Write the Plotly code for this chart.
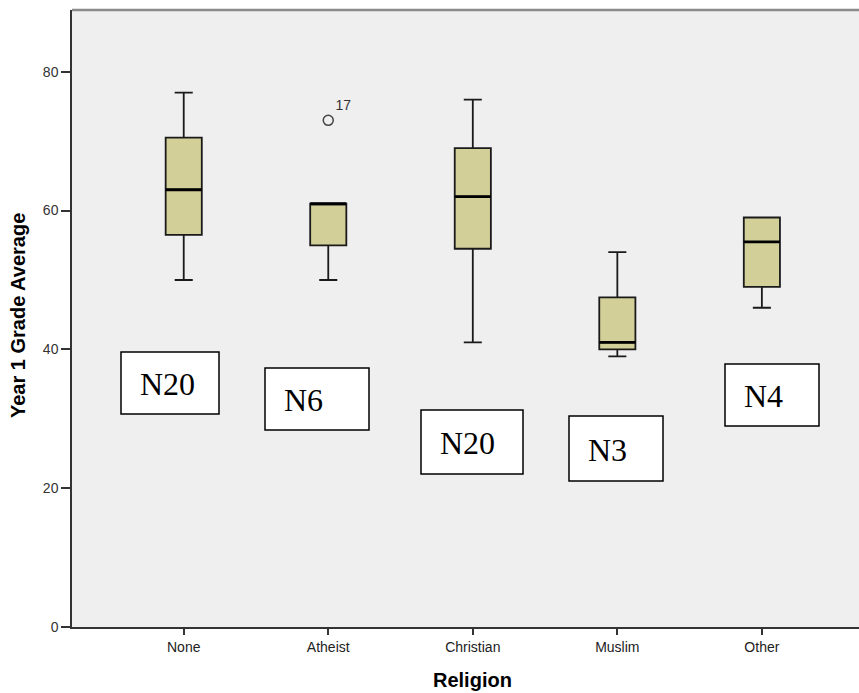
import plotly.graph_objects as go

# ---- data ----
categories = ["None", "Atheist", "Christian", "Muslim", "Other"]
positions = [1, 2, 3, 4, 5]
lower_whisker = [50, 50, 41, 39, 46]
q1_vals = [56.5, 55, 54.5, 40, 49]
median_vals = [63, 61, 62, 41, 55.5]
q3_vals = [70.5, 61, 69, 47.5, 59]
upper_whisker = [77, 61, 76, 54, 59]
outlier_x = [2]
outlier_y = [73]
outlier_labels = ["17"]
n_labels = ["N20", "N6", "N20", "N3", "N4"]
y_ticks = [0, 20, 40, 60, 80]

W, H = 859, 693
L, T, B, R = 72, 10, 66, 0
PW, PH = W - L - R, H - T - B


def px_x(p):
    return (p - L) / PW


def px_y(p):
    return (H - B - p) / PH


BOX_W = 0.25
fig = go.Figure()
fig.add_trace(go.Box(
    x=positions, q1=q1_vals, median=median_vals, q3=q3_vals,
    lowerfence=lower_whisker, upperfence=upper_whisker,
    width=BOX_W, whiskerwidth=0.5, boxpoints=False,
    fillcolor="#D3CF99", line=dict(color="#1a1a1a", width=1.8),
    showlegend=False, hoverinfo="skip"))

# thick median lines
mx, my = [], []
for p, m in zip(positions, median_vals):
    mx += [p - BOX_W / 2, p + BOX_W / 2, None]
    my += [m, m, None]
fig.add_trace(go.Scatter(x=mx, y=my, mode="lines",
                         line=dict(color="black", width=2.8),
                         showlegend=False, hoverinfo="skip"))

# outlier
fig.add_trace(go.Scatter(
    x=outlier_x, y=outlier_y, mode="markers+text", text=outlier_labels,
    textposition="top right",
    textfont=dict(family="Liberation Sans, Arial", size=14, color="#333"),
    marker=dict(symbol="circle-open", size=10, color="#444",
                line=dict(width=1.5, color="#444")),
    showlegend=False, hoverinfo="skip"))

# N label boxes (pixel boxes: x0, x1, y0, y1)
label_boxes = [(121, 219, 352, 414), (265, 369, 368, 430),
               (421, 523, 410, 474), (569, 663, 416, 481),
               (725, 819, 364, 426)]
shapes = []
annotations = []
for txt, (x0, x1, y0, y1) in zip(n_labels, label_boxes):
    shapes.append(dict(type="rect", xref="paper", yref="paper",
                       x0=px_x(x0), x1=px_x(x1), y0=px_y(y1), y1=px_y(y0),
                       fillcolor="white", line=dict(color="black", width=1.5),
                       layer="above"))
    annotations.append(dict(xref="paper", yref="paper",
                            x=px_x(x0 + 17), y=px_y((y0 + y1) / 2 + 1),
                            xanchor="left", yanchor="middle", showarrow=False,
                            text=txt,
                            font=dict(family="Liberation Serif, Times New Roman",
                                      size=32, color="black")))

# top frame line
shapes.append(dict(type="line", xref="paper", yref="paper", x0=0, x1=1,
                   y0=1, y1=1, line=dict(color="#8a8a8a", width=2.5)))

# axis titles
annotations.append(dict(xref="x", yref="paper", x=3, y=px_y(680),
                        xanchor="center", yanchor="middle", showarrow=False,
                        text="Religion",
                        font=dict(family="Liberation Sans, Arial", size=20,
                                  color="black", weight="bold")))
annotations.append(dict(xref="paper", yref="paper", x=px_x(18),
                        y=px_y(316), xanchor="center", yanchor="middle",
                        showarrow=False, textangle=-90,
                        text="Year 1 Grade Average",
                        font=dict(family="Liberation Sans, Arial", size=20,
                                  color="black", weight="bold")))

fig.update_layout(
    width=W, height=H,
    margin=dict(l=L, r=R, t=T, b=B, pad=0),
    paper_bgcolor="white", plot_bgcolor="#EFEFEF",
    shapes=shapes, annotations=annotations,
    font=dict(family="Liberation Sans, Arial", size=14, color="#333"),
    xaxis=dict(range=[0.227, 5.672], tickvals=positions, ticktext=categories,
               ticks="outside", ticklen=6, tickwidth=1.5, tickcolor="#333",
               showline=True, linecolor="#333", linewidth=2,
               showgrid=False, zeroline=False,
               tickfont=dict(size=14, color="#222")),
    yaxis=dict(range=[0, 88.9], tickvals=y_ticks,
               ticks="outside", ticklen=9, tickwidth=1.5, tickcolor="#333",
               showline=True, linecolor="#333", linewidth=1.5,
               showgrid=False, zeroline=False,
               tickfont=dict(size=14, color="#333")),
)

fig.write_html("out.html")
